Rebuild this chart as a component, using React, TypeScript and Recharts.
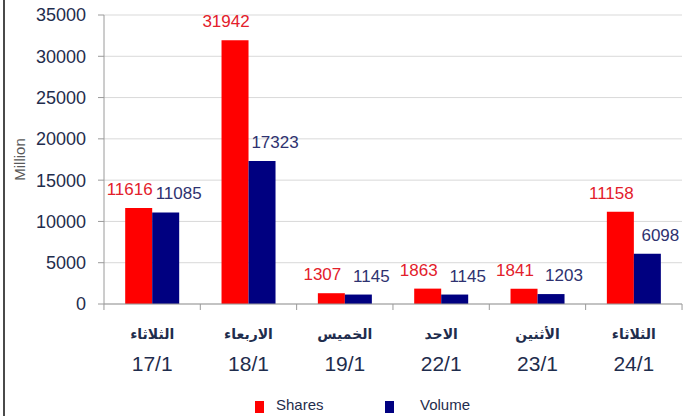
import { Bar, BarChart, CartesianGrid, LabelList, Legend, XAxis, YAxis } from 'recharts'

const days = ['الثلاثاء', 'الاربعاء', 'الخميس', 'الاحد', 'الأثنين', 'الثلاثاء']
const dates = ['17/1', '18/1', '19/1', '22/1', '23/1', '24/1']
const shares = [11616, 31942, 1307, 1863, 1841, 11158]
const volume = [11085, 17323, 1145, 1145, 1203, 6098]
const yTicks = [0, 5000, 10000, 15000, 20000, 25000, 30000, 35000]

const data = dates.map((d, i) => ({ date: d, day: days[i], shares: shares[i], volume: volume[i] }))

const FONT = "'Liberation Sans', Arial, sans-serif"
const INK = '#1f2d4d'
const RED = '#ff0000'
const NAVY = '#000080'
const HALF_BAND = 48.2

function DayTick(props: any) {
  const { x, y, payload, index } = props
  const row = data[index] ?? data.find((d) => d.date === payload.value)
  return (
    <g>
      <line x1={x - HALF_BAND} x2={x - HALF_BAND} y1={304} y2={310} stroke="#9a9a9a" />
      {index === data.length - 1 && (
        <line x1={x + HALF_BAND} x2={x + HALF_BAND} y1={304} y2={310} stroke="#9a9a9a" />
      )}
      <text x={x} y={y + 27} textAnchor="middle" fontFamily="'DejaVu Sans', sans-serif" fontWeight={700} fontSize={14} fill={INK}>
        {row?.day}
      </text>
      <text x={x} y={y + 59} textAnchor="middle" fontFamily={FONT} fontSize={21} fill={INK}>
        {payload.value}
      </text>
    </g>
  )
}

const valueLabel = (color: string, dx: number) => (p: any) => {
  const { x, y, width, value } = p
  return (
    <text x={x + width / 2 + dx} y={y - 13} textAnchor="middle" fontFamily={FONT} fontSize={17} fill={color}>
      {value}
    </text>
  )
}

function LegendBox() {
  const items = [
    { label: 'Shares', color: RED, sq: 255, tx: 276 },
    { label: 'Volume', color: NAVY, sq: 385, tx: 420 },
  ]
  return (
    <div style={{ position: 'relative', height: 24 }}>
      {items.map((it) => (
        <div key={it.label}>
          <span style={{ position: 'absolute', left: it.sq, top: 9, width: 9, height: 12, background: it.color }} />
          <span style={{ position: 'absolute', left: it.tx, top: 4, fontFamily: FONT, fontSize: 15, color: INK }}>
            {it.label}
          </span>
        </div>
      ))}
    </div>
  )
}

export default function App() {
  return (
    <div style={{ position: 'fixed', left: 0, top: 0, width: 691, height: 416, background: '#fff', overflow: 'hidden' }}>
      <div style={{ position: 'absolute', left: 3, top: 0, width: 2, height: 416, background: '#4a4a4a' }} />
      <BarChart
        width={691}
        height={416}
        data={data}
        margin={{ top: 15, right: 9, left: 0, bottom: 0 }}
        barCategoryGap="22%"
        barGap={0}
      >
        <CartesianGrid vertical={false} stroke="#d9d9d9" />
        <XAxis
          dataKey="date"
          height={88}
          axisLine={{ stroke: '#9a9a9a' }}
          tickLine={false}
          tick={<DayTick />}
          interval={0}
        />
        <YAxis
          width={104}
          domain={[0, 35000]}
          ticks={yTicks}
          interval={0}
          axisLine={{ stroke: '#9a9a9a' }}
          tickLine={{ stroke: '#9a9a9a' }}
          tickSize={6}
          tickMargin={12}
          tick={{ fontFamily: FONT, fontSize: 18, fill: INK }}
          label={{
            value: 'Million',
            angle: -90,
            position: 'insideLeft',
            offset: 20,
            style: { fontFamily: FONT, fontSize: 15, fill: '#595959', textAnchor: 'middle' },
          }}
        />
        <Legend verticalAlign="bottom" height={24} content={<LegendBox />} />
        <Bar dataKey="shares" fill={RED} isAnimationActive={false}>
          <LabelList dataKey="shares" content={valueLabel('#e3202b', -9)} />
        </Bar>
        <Bar dataKey="volume" fill={NAVY} isAnimationActive={false}>
          <LabelList dataKey="volume" content={valueLabel('#2e3270', 13)} />
        </Bar>
      </BarChart>
    </div>
  )
}
